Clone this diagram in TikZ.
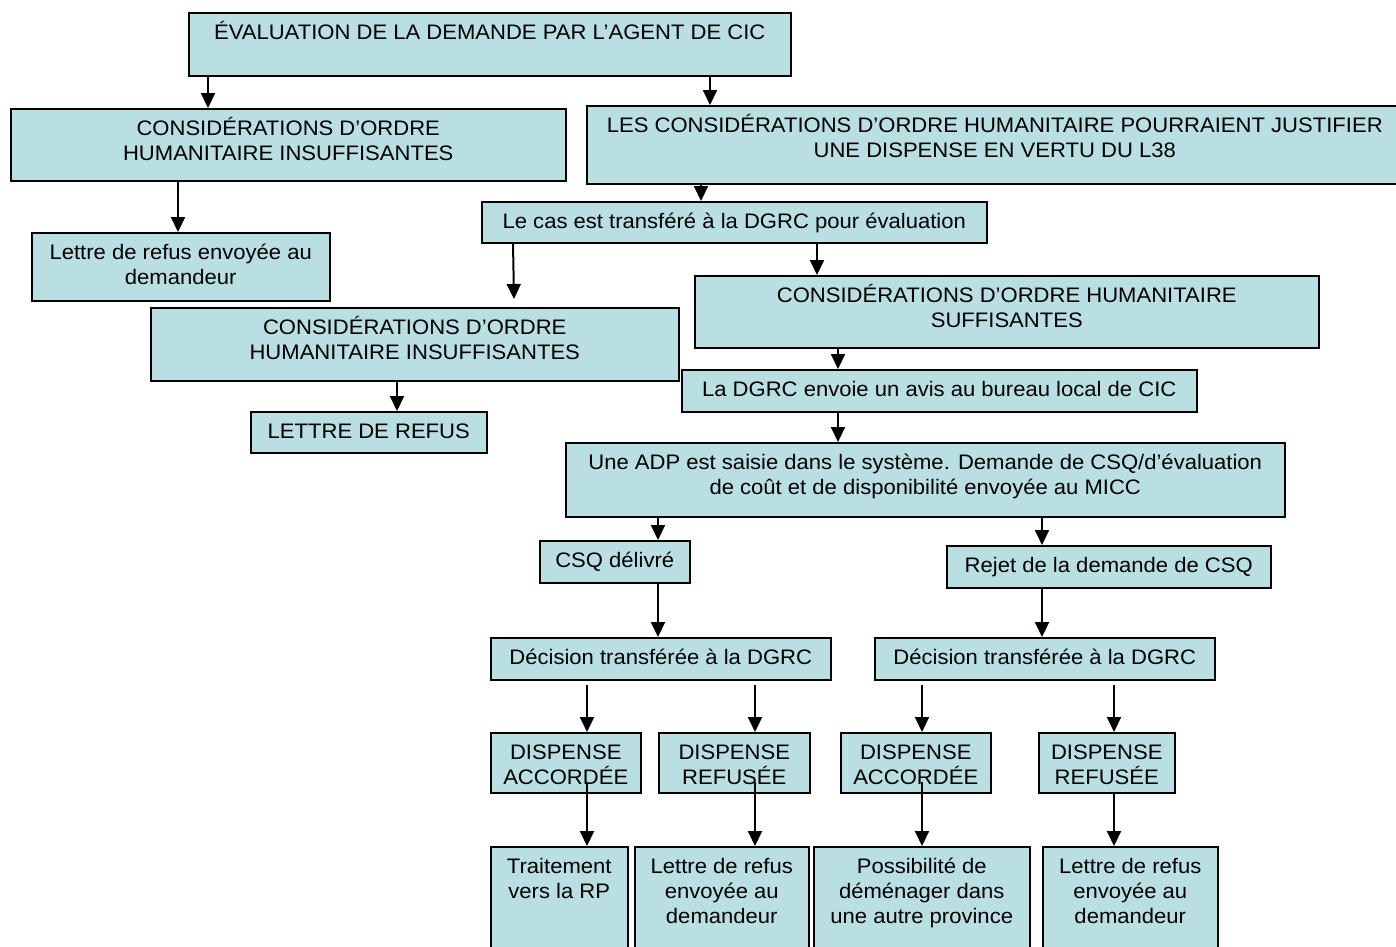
\documentclass[tikz,border=0pt]{standalone}
\usepackage{fontspec}
\setmainfont[FakeStretch=1.05]{Liberation Sans}
\usetikzlibrary{arrows.meta,positioning}

\definecolor{boxfill}{RGB}{185,223,227}

% text block of a box: width, height, lines (text sits at the top)
\newcommand{\boxtxt}[3]{\parbox[t][#2pt][t]{#1pt}{\centering\rule{0pt}{27pt}#3}}

\begin{document}
\begin{tikzpicture}[
    x=1pt, y=-1pt,
    box/.style={draw, fill=boxfill, line width=1.5pt, anchor=north west, inner sep=0pt,
      font=\fontsize{21}{25}\selectfont},
    arr/.style={-{Triangle[width=14pt,length=15pt]}, line width=2pt},
  ]
    \useasboundingbox (0,0) rectangle (1396,946);
    \clip (0,0) rectangle (1396,946);

    \node[box] (top) at (188,12) {\boxtxt{602}{63}{ÉVALUATION DE LA DEMANDE PAR L’AGENT DE CIC}};
    \node[box] (insL) at (10,108) {\boxtxt{555}{72}{CONSIDÉRATIONS D’ORDRE\\HUMANITAIRE INSUFFISANTES}};
    \node[box] (l38) at (586,105) {\boxtxt{816}{78}{LES CONSIDÉRATIONS D’ORDRE HUMANITAIRE POURRAIENT JUSTIFIER\\UNE DISPENSE EN VERTU DU L38}};
    \node[box] (refusL) at (31,232) {\boxtxt{298}{68}{Lettre de refus envoyée au\\demandeur}};
    \node[box] (cas) at (481,201) {\boxtxt{505}{41}{Le cas est transféré à la DGRC pour évaluation}};
    \node[box] (insM) at (150,307) {\boxtxt{528}{73}{CONSIDÉRATIONS D’ORDRE\\HUMANITAIRE INSUFFISANTES}};
    \node[box] (suff) at (694,275) {\boxtxt{624}{72}{CONSIDÉRATIONS D’ORDRE HUMANITAIRE\\SUFFISANTES}};
    \node[box] (lettre) at (250,411) {\boxtxt{236}{41}{LETTRE DE REFUS}};
    \node[box] (avis) at (681,369) {\boxtxt{515}{42}{La DGRC envoie un avis au bureau local de CIC}};
    \node[box] (adp) at (565,442) {\boxtxt{719}{74}{Une ADP est saisie dans le système. Demande de CSQ/d’évaluation\\de coût et de disponibilité envoyée au MICC}};
    \node[box] (csq) at (539,540) {\boxtxt{150}{42}{CSQ délivré}};
    \node[box] (rejet) at (946,545) {\boxtxt{324}{42}{Rejet de la demande de CSQ}};
    \node[box] (decL) at (490,637) {\boxtxt{340}{42}{Décision transférée à la DGRC}};
    \node[box] (decR) at (874,637) {\boxtxt{340}{42}{Décision transférée à la DGRC}};

    \node[box] (accL) at (490,732) {\boxtxt{150}{60}{DISPENSE\\ACCORDÉE}};
    \node[box] (refL) at (658,732) {\boxtxt{151}{60}{DISPENSE\\REFUSÉE}};
    \node[box] (accR) at (840,732) {\boxtxt{150}{60}{DISPENSE\\ACCORDÉE}};
    \node[box] (refR) at (1038,732) {\boxtxt{136}{60}{DISPENSE\\REFUSÉE}};

    \node[box] (rp) at (490,846) {\boxtxt{137}{120}{Traitement\\vers la RP}};
    \node[box] (lettreL) at (634,846) {\boxtxt{174}{120}{Lettre de refus\\envoyée au\\demandeur}};
    \node[box] (prov) at (813,846) {\boxtxt{216}{120}{Possibilité de\\déménager dans\\une autre province}};
    \node[box] (lettreR) at (1042,846) {\boxtxt{175}{120}{Lettre de refus\\envoyée au\\demandeur}};

    \draw[arr] ([xshift=20pt]top.south west) -- ([xshift=198pt]insL.north west);
    \draw[arr] ([xshift=522pt]top.south west) -- ([xshift=124pt]l38.north west);
    \draw[arr] ([xshift=168pt]insL.south west) -- ([xshift=147pt]refusL.north west);
    \draw[arr] ([xshift=115pt]l38.south west) -- ([xshift=220pt]cas.north west);
    \draw[arr] ([xshift=32pt]cas.south west) -- ([xshift=364pt,yshift=8pt]insM.north west);
    \draw[arr] ([xshift=336pt]cas.south west) -- ([xshift=123pt]suff.north west);
    \draw[arr] ([xshift=247pt]insM.south west) -- ([xshift=147pt]lettre.north west);
    \draw[arr] ([xshift=144pt]suff.south west) -- ([xshift=157pt]avis.north west);
    \draw[arr] ([xshift=157pt]avis.south west) -- ([xshift=273pt]adp.north west);
    \draw[arr] ([xshift=93pt]adp.south west) -- ([xshift=119pt]csq.north west);
    \draw[arr] ([xshift=477pt]adp.south west) -- ([xshift=96pt]rejet.north west);
    \draw[arr] ([xshift=119pt]csq.south west) -- ([xshift=168pt]decL.north west);
    \draw[arr] ([xshift=96pt]rejet.south west) -- ([xshift=168pt]decR.north west);

    \draw[arr] ([xshift=97pt,yshift=-4pt]decL.south west) -- ([xshift=97pt]accL.north west);
    \draw[arr] ([xshift=265pt,yshift=-4pt]decL.south west) -- ([xshift=97pt]refL.north west);
    \draw[arr] ([xshift=48pt,yshift=-4pt]decR.south west) -- ([xshift=82pt]accR.north west);
    \draw[arr] ([xshift=240pt,yshift=-4pt]decR.south west) -- ([xshift=76pt]refR.north west);

    \draw[arr] ([xshift=97pt,yshift=12pt]accL.south west) -- ([xshift=97pt]rp.north west);
    \draw[arr] ([xshift=97pt,yshift=12pt]refL.south west) -- ([xshift=121pt]lettreL.north west);
    \draw[arr] ([xshift=82pt,yshift=12pt]accR.south west) -- ([xshift=109pt]prov.north west);
    \draw[arr] ([xshift=76pt]refR.south west) -- ([xshift=72pt]lettreR.north west);
\end{tikzpicture}
\end{document}
